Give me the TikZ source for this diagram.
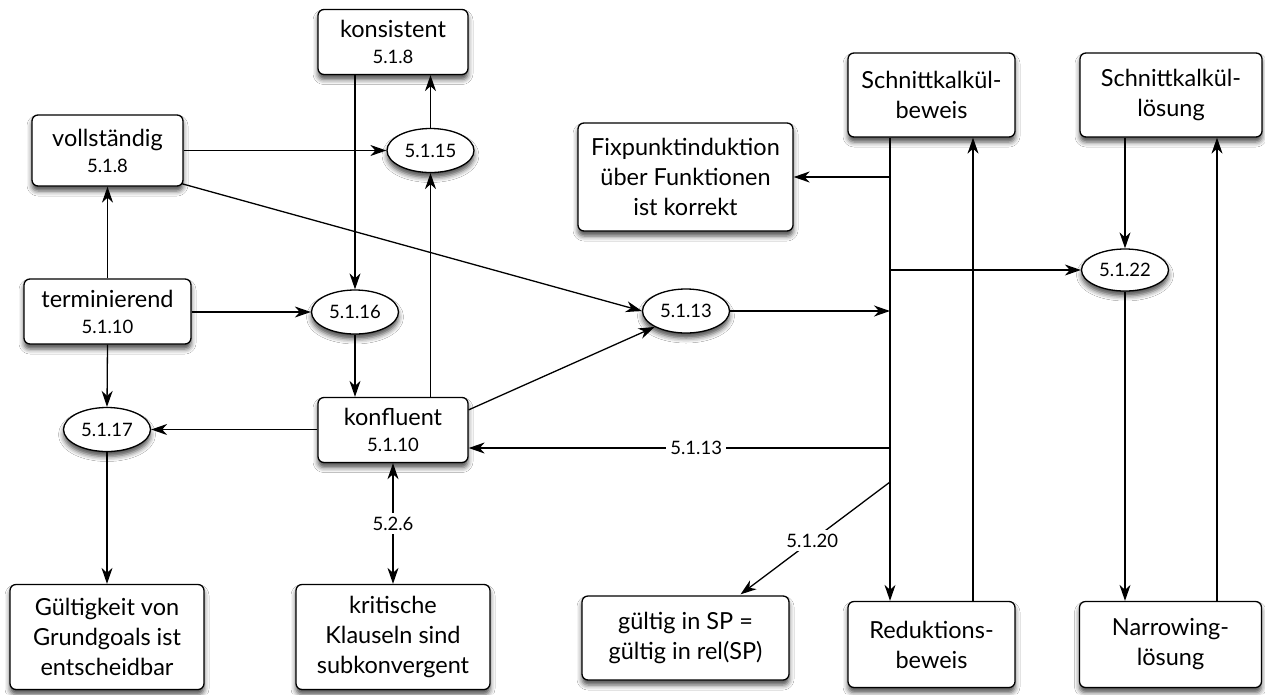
\documentclass[tikz,border=0pt]{standalone}
\usepackage{fontspec}
\setmainfont{Lato}
\usetikzlibrary{arrows.meta,shapes.geometric,shadows.blur,calc}
\newcommand\numsz{\fontsize{18.5}{26}\selectfont}
\begin{document}
\begin{tikzpicture}[x=1pt,y=-1pt,line width=1.3pt,
  tip/.tip={Stealth[length=16pt,width=11pt,inset=5pt]},
  arr/.style={-tip},
  twoway/.style={tip-tip},
  shade/.style={blur shadow={shadow xshift=0pt,shadow yshift=-5pt,shadow blur radius=5pt,shadow opacity=70}},
  box/.style={draw,rounded corners=6pt,fill=white,align=center,inner sep=0pt,
    font=\fontsize{23.5}{30}\selectfont,shade},
  namebox/.style={box,font=\fontsize{23.5}{26}\selectfont},
  ell/.style={draw,ellipse,fill=white,inner sep=0pt,minimum width=87pt,
    minimum height=44pt,font=\numsz,shade},
  elab/.style={fill=white,font=\numsz,inner sep=4pt}]

\useasboundingbox[fill=white] (0,0) rectangle (1265,694);

% boxes with a name and a number
\node[namebox,minimum width=150pt,minimum height=65pt] (kons) at (393,42) {konsistent\\{\numsz 5.1.8}};
\node[namebox,minimum width=151pt,minimum height=71pt] (voll) at (107.5,150.5) {vollständig\\{\numsz 5.1.8}};
\node[namebox,minimum width=167pt,minimum height=65pt] (term) at (107.5,311.5) {terminierend\\{\numsz 5.1.10}};
\node[namebox,minimum width=150pt,minimum height=65pt] (konf) at (393,430) {konfluent\\{\numsz 5.1.10}};

% theorem ellipses
\node[ell] (e15) at (430.5,150.5) {5.1.15};
\node[ell] (e16) at (355,312) {5.1.16};
\node[ell] (e17) at (107,429.5) {5.1.17};
\node[ell] (e13) at (686,311) {5.1.13};
\node[ell,minimum height=42pt] (e22) at (1125,270) {5.1.22};

% text boxes
\node[box,minimum width=215pt,minimum height=108pt] (fix) at (685.5,177) {Fixpunktinduktion\\über Funktionen\\ist korrekt};
\node[box,minimum width=167pt,minimum height=84pt] (sbew) at (931.5,95) {Schnittkalkül-\\beweis};
\node[box,minimum width=182pt,minimum height=84pt] (slos) at (1171,95) {Schnittkalkül-\\lösung};
\node[box,minimum width=194pt,minimum height=105pt] (guelt) at (107,637) {Gültigkeit von\\Grundgoals ist\\entscheidbar};
\node[box,minimum width=194pt,minimum height=105pt] (krit) at (393,637) {kritische\\Klauseln sind\\subkonvergent};
\node[box,minimum width=207pt,minimum height=84pt] (sp) at (685.5,638) {gültig in SP =\\gültig in rel(SP)};
\node[box,minimum width=167pt,minimum height=86pt] (red) at (931.5,644.5) {Reduktions-\\beweis};
\node[box,minimum width=182pt,minimum height=86pt] (narr) at (1170.5,644.5) {Narrowing-\\lösung};

% vertical rails
\coordinate (trunk) at (890,0);
\coordinate (back) at (973,0);
\coordinate (nup) at (1217,0);

% left part
\draw[arr] (kons.south -| e16) -- (e16.north);
\draw[arr] (e15.north) -- (e15.north |- kons.south);
\draw[arr] (voll.east |- e15) -- (e15.west);
\draw[arr] ($(voll.south east)+(-2,-3)$) -- (e13.west);
\draw[arr] (term.north) -- (voll.south);
\draw[arr] (term.east |- e16) -- (e16.west);
\draw[arr] (term.south) -- (e17.north);
\draw[arr] (e16.south) -- (e16.south |- konf.north);
\draw[arr] (konf.north -| e15) -- (e15.south);
\draw[arr] (konf.west |- e17) -- (e17.east);
\draw[arr] ($(konf.north east)+(0,13)$) -- (e13.207);
\draw[arr] (e17.south) -- (guelt.north);
\draw[twoway] (konf.south) -- node[elab] {5.2.6} (krit.north);

% right part
\draw[arr] (sbew.south -| trunk) -- (red.north -| trunk);
\draw[arr] (red.north -| back) -- (sbew.south -| back);
\draw[arr] (e13.east) -- (e13.east -| trunk);
\draw[arr] (fix.east -| trunk) -- (fix.east);
\draw[arr] (e22.west -| trunk) -- (e22.west);
\draw[arr] ($(trunk)+(0,448)$) -- node[elab,pos=0.46] {5.1.13} ($(konf.east)+(0,18)$);
\draw[arr] ($(trunk)+(0,482)$) -- node[elab,pos=0.52] {5.1.20} ($(sp.north)+(55,-1)$);
\draw[arr] (slos.south -| e22) -- (e22.north);
\draw[arr] (e22.south) -- (narr.north -| e22);
\draw[arr] (narr.north -| nup) -- (slos.south -| nup);
\end{tikzpicture}
\end{document}
